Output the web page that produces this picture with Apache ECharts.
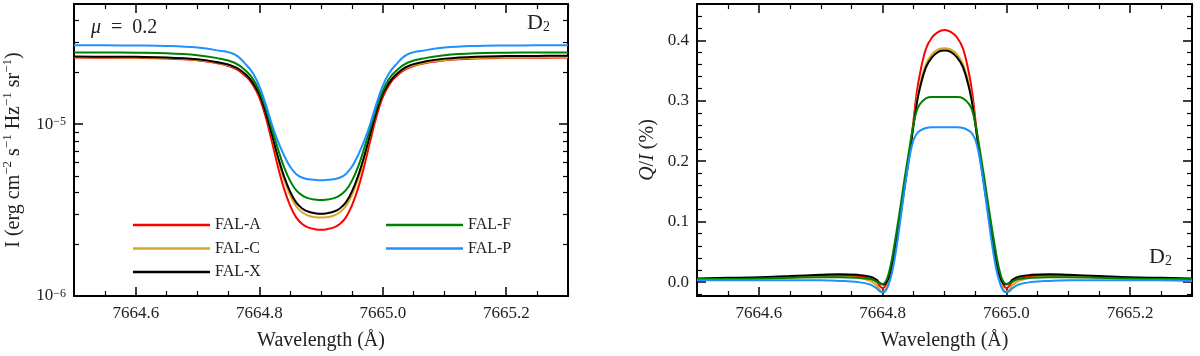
<!DOCTYPE html>
<html><head><meta charset="utf-8">
<script src="https://cdn.jsdelivr.net/npm/echarts@6/dist/echarts.min.js"></script>
<style>html,body{margin:0;padding:0;background:#fff}#c{width:1200px;height:356px}</style>
</head><body><div id="c"></div><script>
// ---------- data ----------
const seriesNames = ['FAL-A', 'FAL-C', 'FAL-X', 'FAL-F', 'FAL-P'];
const seriesColors = ['#ff0000', '#daa520', '#000000', '#008000', '#1e90ff'];

// Left panel: intensity profiles
const wavelengthI = [7664.50, 7664.55, 7664.60, 7664.65, 7664.70, 7664.73, 7664.76, 7664.78, 7664.79, 7664.80,
  7664.81, 7664.82, 7664.83, 7664.84, 7664.85, 7664.86, 7664.87, 7664.88, 7664.89, 7664.90,
  7664.91, 7664.92, 7664.93, 7664.94, 7664.95, 7664.96, 7664.97, 7664.98, 7664.99, 7665.00,
  7665.01, 7665.02, 7665.04, 7665.07, 7665.10, 7665.15, 7665.20, 7665.25, 7665.30];
const iFALA = [2.438e-5, 2.435e-5, 2.430e-5, 2.410e-5, 2.350e-5, 2.270e-5, 2.110e-5, 1.871e-5, 1.687e-5, 1.436e-5,
  1.114e-5, 8.054e-6, 5.702e-6, 4.227e-6, 3.357e-6, 2.858e-6, 2.618e-6, 2.500e-6, 2.449e-6, 2.432e-6,
  2.449e-6, 2.500e-6, 2.618e-6, 2.858e-6, 3.357e-6, 4.227e-6, 5.702e-6, 8.054e-6, 1.114e-5, 1.436e-5,
  1.687e-5, 1.871e-5, 2.110e-5, 2.270e-5, 2.350e-5, 2.410e-5, 2.430e-5, 2.435e-5, 2.438e-5];
const iFALC = [2.449e-5, 2.446e-5, 2.441e-5, 2.425e-5, 2.365e-5, 2.285e-5, 2.140e-5, 1.914e-5, 1.738e-5, 1.493e-5,
  1.180e-5, 8.730e-6, 6.324e-6, 4.786e-6, 3.864e-6, 3.319e-6, 3.062e-6, 2.931e-6, 2.877e-6, 2.858e-6,
  2.877e-6, 2.931e-6, 3.062e-6, 3.319e-6, 3.864e-6, 4.786e-6, 6.324e-6, 8.730e-6, 1.180e-5, 1.493e-5,
  1.738e-5, 1.914e-5, 2.140e-5, 2.285e-5, 2.365e-5, 2.425e-5, 2.441e-5, 2.446e-5, 2.449e-5];
const iFALX = [2.472e-5, 2.469e-5, 2.463e-5, 2.445e-5, 2.385e-5, 2.300e-5, 2.155e-5, 1.919e-5, 1.730e-5, 1.493e-5,
  1.183e-5, 8.810e-6, 6.501e-6, 4.989e-6, 4.046e-6, 3.491e-6, 3.221e-6, 3.090e-6, 3.034e-6, 3.013e-6,
  3.034e-6, 3.090e-6, 3.221e-6, 3.491e-6, 4.046e-6, 4.989e-6, 6.501e-6, 8.810e-6, 1.183e-5, 1.493e-5,
  1.730e-5, 1.919e-5, 2.170e-5, 2.320e-5, 2.405e-5, 2.470e-5, 2.488e-5, 2.495e-5, 2.500e-5];
const iFALF = [2.612e-5, 2.609e-5, 2.603e-5, 2.585e-5, 2.520e-5, 2.430e-5, 2.275e-5, 2.018e-5, 1.828e-5, 1.563e-5,
  1.256e-5, 9.528e-6, 7.228e-6, 5.636e-6, 4.677e-6, 4.111e-6, 3.837e-6, 3.698e-6, 3.639e-6, 3.614e-6,
  3.639e-6, 3.698e-6, 3.837e-6, 4.111e-6, 4.677e-6, 5.636e-6, 7.228e-6, 9.528e-6, 1.256e-5, 1.563e-5,
  1.828e-5, 2.018e-5, 2.275e-5, 2.430e-5, 2.520e-5, 2.585e-5, 2.603e-5, 2.609e-5, 2.612e-5];
const iFALP = [2.877e-5, 2.874e-5, 2.868e-5, 2.850e-5, 2.790e-5, 2.695e-5, 2.545e-5, 2.193e-5, 1.968e-5, 1.671e-5,
  1.321e-5, 1.009e-5, 7.980e-6, 6.592e-6, 5.649e-6, 5.117e-6, 4.875e-6, 4.775e-6, 4.742e-6, 4.721e-6,
  4.742e-6, 4.775e-6, 4.875e-6, 5.117e-6, 5.649e-6, 6.592e-6, 7.980e-6, 1.009e-5, 1.321e-5, 1.671e-5,
  1.968e-5, 2.193e-5, 2.545e-5, 2.695e-5, 2.790e-5, 2.850e-5, 2.868e-5, 2.874e-5, 2.877e-5];

// Right panel: Q/I (%) profiles
const wavelengthQ = [7664.50, 7664.55, 7664.60, 7664.65, 7664.70, 7664.73, 7664.76, 7664.78, 7664.79, 7664.795,
  7664.80, 7664.805, 7664.81, 7664.815, 7664.82, 7664.825, 7664.83, 7664.835, 7664.84, 7664.845,
  7664.85, 7664.855, 7664.86, 7664.87, 7664.88, 7664.89, 7664.90,
  7664.91, 7664.92, 7664.93, 7664.94, 7664.945, 7664.95, 7664.955, 7664.96, 7664.965, 7664.97,
  7664.975, 7664.98, 7664.985, 7664.99, 7664.995, 7665.00, 7665.005, 7665.01, 7665.02, 7665.04,
  7665.07, 7665.10, 7665.15, 7665.20, 7665.25, 7665.30];
const qFALA = [0.005, 0.005, 0.006, 0.008, 0.010, 0.011, 0.010, 0.006, 0.001, -0.006,
  -0.010, -0.005, 0.007, 0.027, 0.052, 0.085, 0.120, 0.155, 0.190, 0.225,
  0.268, 0.312, 0.343, 0.386, 0.405, 0.414, 0.417,
  0.414, 0.405, 0.386, 0.343, 0.312, 0.268, 0.225, 0.190, 0.155, 0.120,
  0.085, 0.052, 0.027, 0.007, -0.005, -0.010, -0.006, 0.001, 0.006, 0.010,
  0.011, 0.010, 0.008, 0.006, 0.005, 0.005];
const qFALC = [0.005, 0.005, 0.006, 0.008, 0.009, 0.009, 0.007, 0.002, -0.005, -0.012,
  -0.016, -0.012, 0.002, 0.022, 0.050, 0.083, 0.120, 0.155, 0.190, 0.222,
  0.262, 0.298, 0.325, 0.360, 0.377, 0.385, 0.387,
  0.385, 0.377, 0.360, 0.325, 0.298, 0.262, 0.222, 0.190, 0.155, 0.120,
  0.083, 0.050, 0.022, 0.002, -0.012, -0.016, -0.012, -0.005, 0.002, 0.007,
  0.009, 0.009, 0.008, 0.006, 0.005, 0.005];
const qFALX = [0.006, 0.007, 0.008, 0.010, 0.012, 0.013, 0.012, 0.009, 0.004, -0.001,
  -0.004, -0.002, 0.008, 0.027, 0.053, 0.085, 0.120, 0.155, 0.190, 0.222,
  0.260, 0.294, 0.320, 0.355, 0.372, 0.381, 0.383,
  0.381, 0.372, 0.355, 0.320, 0.294, 0.260, 0.222, 0.190, 0.155, 0.120,
  0.085, 0.053, 0.027, 0.008, -0.002, -0.004, -0.001, 0.004, 0.009, 0.012,
  0.013, 0.012, 0.010, 0.008, 0.007, 0.006];
const qFALF = [0.005, 0.005, 0.006, 0.007, 0.008, 0.008, 0.007, 0.005, 0.001, -0.002,
  -0.003, 0.001, 0.015, 0.038, 0.068, 0.100, 0.133, 0.168, 0.200, 0.232,
  0.262, 0.283, 0.294, 0.304, 0.306, 0.306, 0.306,
  0.306, 0.306, 0.304, 0.294, 0.283, 0.262, 0.232, 0.200, 0.168, 0.133,
  0.100, 0.068, 0.038, 0.015, 0.001, -0.003, -0.002, 0.001, 0.005, 0.007,
  0.008, 0.008, 0.007, 0.006, 0.005, 0.005];
const qFALP = [0.003, 0.003, 0.003, 0.003, 0.003, 0.002, 0.000, -0.004, -0.010, -0.015,
  -0.017, -0.014, -0.003, 0.015, 0.042, 0.075, 0.113, 0.150, 0.185, 0.215,
  0.235, 0.245, 0.250, 0.255, 0.256, 0.256, 0.256,
  0.256, 0.256, 0.255, 0.250, 0.245, 0.235, 0.215, 0.185, 0.150, 0.113,
  0.075, 0.042, 0.015, -0.003, -0.014, -0.017, -0.015, -0.010, -0.004, 0.000,
  0.002, 0.003, 0.003, 0.003, 0.003, 0.002];

// Axis ranges and tick labels
const wlRange = [7664.5, 7665.3];
const iRange = [1e-6, 5e-5];
const qRange = [-0.023, 0.46];
const logTickExponents = [-6, -5];
const logMinorTicks = [2e-6, 3e-6, 4e-6, 5e-6, 6e-6, 7e-6, 8e-6, 9e-6, 2e-5, 3e-5, 4e-5];

// ---------- chart ----------
const FONT = "'Liberation Serif', 'DejaVu Serif', serif";
const TXT = '#222';
const chart = echarts.init(document.getElementById('c'), null, {renderer: 'canvas'});

const tickStyle = {color: '#000', width: 1.5};
function xAx(grid, pos, labels) {
  return {
    type: 'value', gridIndex: grid, position: pos, min: wlRange[0], max: wlRange[1], splitNumber: 4,
    axisLine: {show: false, onZero: false},
    axisTick: {show: true, inside: true, length: 9, lineStyle: tickStyle},
    minorTick: {show: true, splitNumber: 4, length: 5, lineStyle: {color: '#000', width: 1.2}},
    splitLine: {show: false},
    axisLabel: {show: labels, margin: 9, color: TXT, fontFamily: FONT, fontSize: 17,
      showMinLabel: false, showMaxLabel: false, formatter: v => v.toFixed(1)},
    name: labels ? 'Wavelength (Å)' : '', nameLocation: 'middle', nameGap: 35,
    nameTextStyle: {color: TXT, fontFamily: FONT, fontSize: 20}
  };
}
function logAx(pos, major, withName) {
  const a = {
    type: 'log', logBase: 10, gridIndex: 0, position: pos, min: iRange[0], max: iRange[1],
    axisLine: {show: false, onZero: false},
    splitLine: {show: false},
    minorTick: {show: false},
    axisTick: {show: true, inside: true, length: major ? 9 : 5, lineStyle: major ? tickStyle : {color: '#000', width: 1.2}},
    axisLabel: {show: false}
  };
  if (!major) a.axisTick.customValues = logMinorTicks;
  if (withName) {
    a.axisLabel = {
      show: true, margin: 8, color: TXT, fontFamily: FONT, fontSize: 17,
      formatter: v => {
        const e = Math.round(Math.log10(v));
        if (Math.abs(v / Math.pow(10, e) - 1) < 1e-6 && logTickExponents.indexOf(e) >= 0) return '10{sup|−' + (-e) + '}';
        return '';
      },
      rich: {sup: {fontSize: 12, verticalAlign: 'top', fontFamily: FONT, color: TXT, lineHeight: 12}}
    };
    a.name = 'I (erg cm{sup|−2} s{sup|−1} Hz{sup|−1} sr{sup|−1})';
    a.nameLocation = 'middle';
    a.nameGap = 48;
    a.nameTextStyle = {color: TXT, fontFamily: FONT, fontSize: 20, lineHeight: 25,
      rich: {sup: {fontSize: 13, verticalAlign: 'top', lineHeight: 13, fontFamily: FONT, color: TXT}}};
  }
  return a;
}
function qAx(pos, labels) {
  const a = {
    type: 'value', gridIndex: 1, position: pos, min: qRange[0], max: qRange[1], splitNumber: 5,
    axisLine: {show: false, onZero: false},
    splitLine: {show: false},
    axisTick: {show: true, inside: true, length: 9, lineStyle: tickStyle},
    minorTick: {show: true, splitNumber: 5, length: 5, lineStyle: {color: '#000', width: 1.2}},
    axisLabel: {show: labels, margin: 8, color: TXT, fontFamily: FONT, fontSize: 17,
      showMinLabel: false, showMaxLabel: false, formatter: v => v.toFixed(1)}
  };
  if (labels) {
    a.name = '{i|Q}/{i|I} (%)';
    a.nameLocation = 'middle';
    a.nameGap = 39;
    a.nameTextStyle = {color: TXT, fontFamily: FONT, fontSize: 20,
      rich: {i: {fontStyle: 'italic', fontFamily: FONT, fontSize: 20, color: TXT}}};
  }
  return a;
}

const series = [];
const iData = [iFALA, iFALC, iFALX, iFALF, iFALP];
const qData = [qFALA, qFALC, qFALX, qFALF, qFALP];
seriesNames.forEach((n, k) => {
  series.push({name: n, type: 'line', xAxisIndex: 0, yAxisIndex: 0, showSymbol: false, smooth: 0.4,
    lineStyle: {color: seriesColors[k], width: 2}, itemStyle: {color: seriesColors[k]},
    data: wavelengthI.map((w, i) => [w, iData[k][i]]), animation: false});
  series.push({name: n, type: 'line', xAxisIndex: 2, yAxisIndex: 4, showSymbol: false, smooth: 0.4,
    lineStyle: {color: seriesColors[k], width: 2}, itemStyle: {color: seriesColors[k]},
    data: wavelengthQ.map((w, i) => [w, qData[k][i]]), animation: false});
});

const legendBase = {orient: 'vertical', icon: 'rect', itemWidth: 77, itemHeight: 2.5, itemGap: 5.5,
  textStyle: {color: TXT, fontFamily: FONT, fontSize: 16, lineHeight: 18}, selectedMode: false, padding: 0};

chart.setOption({
  animation: false,
  backgroundColor: '#fff',
  grid: [
    {left: 73, right: 632, top: 4, bottom: 60, show: true, borderColor: '#000', borderWidth: 2, backgroundColor: 'transparent'},
    {left: 697, right: 8, top: 4, bottom: 60, show: true, borderColor: '#000', borderWidth: 2, backgroundColor: 'transparent'}
  ],
  xAxis: [xAx(0, 'bottom', true), xAx(0, 'top', false), xAx(1, 'bottom', true), xAx(1, 'top', false)],
  yAxis: [logAx('left', true, true), logAx('left', false, false), logAx('right', true, false), logAx('right', false, false),
    qAx('left', true), qAx('right', false)],
  legend: [
    Object.assign({}, legendBase, {left: 133, top: 216, data: seriesNames.slice(0, 3)}),
    Object.assign({}, legendBase, {left: 386, top: 216, data: seriesNames.slice(3)})
  ],
  graphic: [
    {type: 'text', left: 91, top: 18, style: {text: '{i|μ}  =  0.2', fill: TXT, font: '20px ' + FONT,
      rich: {i: {fontStyle: 'italic', fontSize: 20, fontFamily: FONT, fill: TXT}}}},
    {type: 'text', left: 527, top: 12, style: {text: 'D{s|2}', fill: TXT, font: '22px ' + FONT,
      rich: {s: {fontSize: 14, fontFamily: FONT, fill: TXT, verticalAlign: 'bottom', lineHeight: 14}}}},
    {type: 'text', left: 1149, top: 246, style: {text: 'D{s|2}', fill: TXT, font: '22px ' + FONT,
      rich: {s: {fontSize: 14, fontFamily: FONT, fill: TXT, verticalAlign: 'bottom', lineHeight: 14}}}}
  ],
  series: series
});
</script></body></html>
